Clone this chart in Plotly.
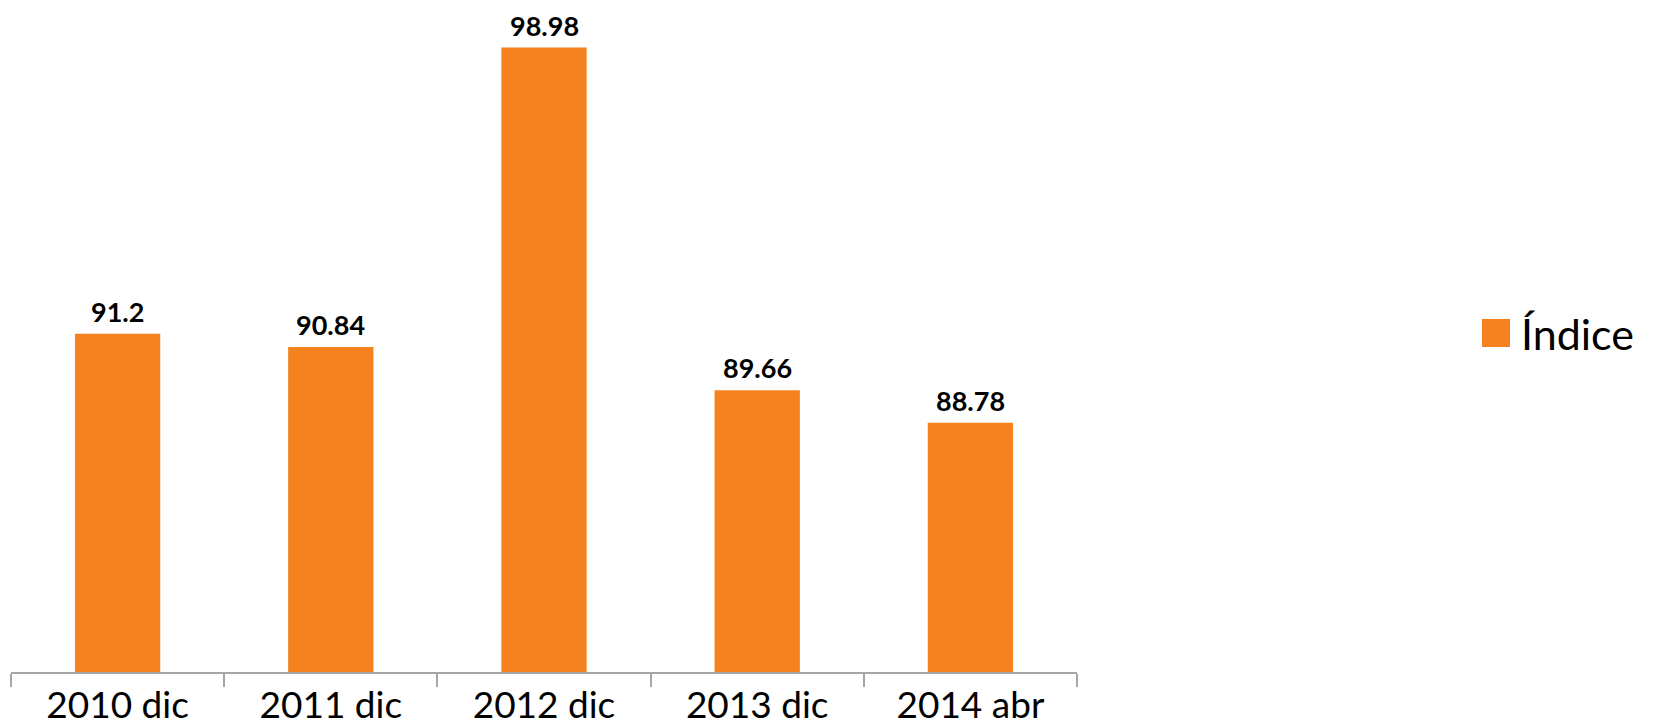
import plotly.graph_objects as go

categories = ["2010 dic", "2011 dic", "2012 dic", "2013 dic", "2014 abr"]
values = [91.2, 90.84, 98.98, 89.66, 88.78]
value_labels = ["91.2", "90.84", "98.98", "89.66", "88.78"]
series_name = "Índice"
y_range = [82, 100]

ORANGE = "#F4821F"
AXIS = "#A6A6A6"
FONT = "Lato"

W, H = 1648, 720
L, R, T, B = 3, 579, 2, 56
PW, PH = W - L - R, H - T - B

fig = go.Figure()
fig.add_trace(go.Bar(
    x=categories, y=values, name=series_name,
    marker=dict(color=ORANGE, line=dict(width=0)),
    showlegend=False,
))

for c, v, t in zip(categories, values, value_labels):
    fig.add_annotation(x=c, y=v, text=t, showarrow=False, yanchor="bottom",
                       yshift=4, font=dict(family=FONT, size=27, color="#000000", weight="bold"))

fig.update_layout(
    width=W, height=H,
    margin=dict(l=L, r=R, t=T, b=B, autoexpand=False),
    paper_bgcolor="white", plot_bgcolor="white",
    bargap=0.6,
    font=dict(family=FONT, color="#000000"),
    showlegend=False,
    xaxis=dict(
        showline=True, linecolor=AXIS, linewidth=1.5,
        ticks="outside", tickson="boundaries", ticklen=13, tickcolor=AXIS, tickwidth=1.5,
        tickfont=dict(family=FONT, size=37, color="#000000"),
        showgrid=False, zeroline=False,
    ),
    yaxis=dict(range=y_range, visible=False, showgrid=False, zeroline=False),
)

# legend drawn manually (square swatch + label), positions in page pixels minus body offset
def px(xp):
    return (xp - 8 - L) / PW

def py(yp):
    return (H - B - (yp - 8)) / PH

fig.add_shape(type="rect", xref="paper", yref="paper",
              x0=px(1482), x1=px(1510), y0=py(347), y1=py(319),
              fillcolor=ORANGE, line=dict(width=0))
fig.add_annotation(xref="paper", yref="paper", x=px(1519), y=py(333),
                   text=series_name, showarrow=False, xanchor="left", yanchor="middle",
                   font=dict(family=FONT, size=43, color="#000000"))

fig.write_html("out.html")
